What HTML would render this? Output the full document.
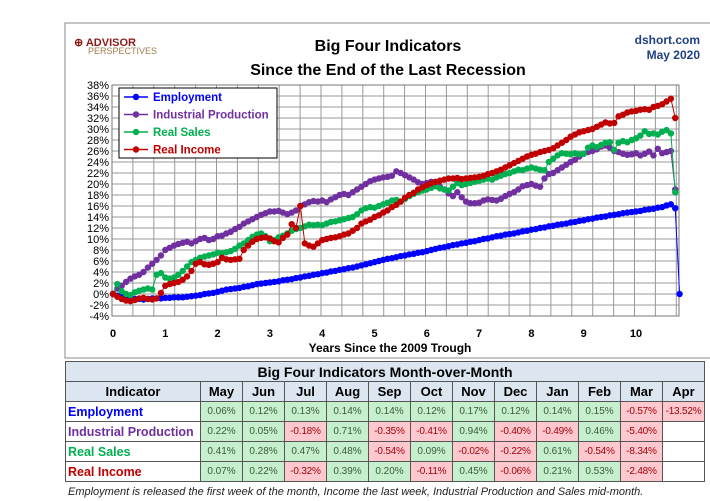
<!DOCTYPE html>
<html><head><meta charset="utf-8">
<style>
body{margin:0;width:710px;height:501px;background:#fff;position:relative;overflow:hidden;font-family:"Liberation Sans",sans-serif}
#chart{position:absolute;left:0;top:0}
table{position:absolute;left:65px;top:361px;border-collapse:collapse;font-size:12px;table-layout:fixed}
td,th{border:1px solid #555;padding:0;height:19px;text-align:center}
th{font-weight:bold;font-size:13px;background:#dce6f1}
td.g{background:#c6efce;color:#3a5a3a;font-size:10px}
td.r{background:#ffc7ce;color:#9c0006;font-size:10px;letter-spacing:-0.2px}
td.n{text-align:left;font-weight:bold;font-size:12.5px;padding-left:2px;white-space:nowrap;overflow:hidden}
#note{position:absolute;left:68px;top:486px;font-size:11px;font-style:italic;color:#222}
</style></head><body>
<svg id="chart" width="710" height="361">
<rect x="65" y="23" width="650" height="335" fill="#fff" stroke="#888"/>
<text x="74" y="46" font-size="11" font-weight="bold" fill="#8b1a1a">⊕ ADVISOR</text>
<text x="88" y="54" font-size="9" fill="#a07a50">PERSPECTIVES</text>
<text x="388" y="51" font-size="16" font-weight="bold" text-anchor="middle">Big Four Indicators</text>
<text x="388" y="75" font-size="16" font-weight="bold" text-anchor="middle">Since the End of the Last Recession</text>
<text x="700" y="44" font-size="12" font-weight="bold" fill="#1f3f7f" text-anchor="end">dshort.com</text>
<text x="700" y="59" font-size="12" font-weight="bold" fill="#1f3f7f" text-anchor="end">May  2020</text>
<g id="grid"></g><g id="series"></g>
<text x="390" y="352" font-size="12" font-weight="bold" text-anchor="middle">Years Since the 2009 Trough</text>
<g>
<rect x="119" y="88" width="158" height="70" fill="#fff" stroke="#000"/>
<g id="legend"></g></g>
</svg>
<table>
<colgroup><col style="width:135px"><col span="12" style="width:42px"></colgroup>
<tr><th colspan="13" style="font-size:14px">Big Four Indicators Month-over-Month</th></tr>
<tr><th>Indicator</th><th>May</th><th>Jun</th><th>Jul</th><th>Aug</th><th>Sep</th><th>Oct</th><th>Nov</th><th>Dec</th><th>Jan</th><th>Feb</th><th>Mar</th><th>Apr</th></tr>
<tbody id="tb"></tbody></table>
<div id="note">Employment is released the first week of the month, Income the last week, Industrial Production and Sales mid-month.</div>
<script>
const yTicks=[38,36,34,32,30,28,26,24,22,20,18,16,14,12,10,8,6,4,2,0,-2,-4];
const xTicks=[0,1,2,3,4,5,6,7,8,9,10];
const seriesNames=["Employment","Industrial Production","Real Sales","Real Income"];
const seriesColors=["#0000ff","#7030a0","#00b050","#c00000"];
const employment=[0,-0.3,-0.5,-0.7,-0.8,-0.9,-0.9,-1.0,-0.9,-0.8,-0.8,-0.8,
-0.7,-0.7,-0.6,-0.6,-0.6,-0.5,-0.4,-0.3,-0.2,0,0.1,0.2,
0.4,0.6,0.8,0.9,1.0,1.1,1.3,1.4,1.6,1.8,1.9,2.0,
2.1,2.2,2.3,2.5,2.6,2.7,2.9,3.0,3.2,3.3,3.5,3.6,
3.8,3.9,4.1,4.2,4.4,4.5,4.7,4.8,5.0,5.2,5.4,5.6,
5.8,6.0,6.2,6.4,6.5,6.7,6.9,7.0,7.2,7.3,7.5,7.6,
7.8,8.0,8.2,8.4,8.5,8.7,8.9,9.0,9.2,9.3,9.5,9.6,
9.8,10.0,10.1,10.3,10.5,10.6,10.8,10.9,11.0,11.2,11.4,11.5,
11.7,11.8,12.0,12.1,12.3,12.4,12.6,12.7,12.8,13.0,13.1,13.3,
13.4,13.6,13.7,13.9,14.0,14.1,14.3,14.4,14.5,14.7,14.8,14.9,
15.0,15.1,15.3,15.4,15.5,15.7,15.8,16.1,16.3,15.6,0.0];
const industrial=[0,1,1.5,2.2,2.8,3.2,3.5,4,4.8,5.5,6.2,7,
8,8.4,8.8,9.1,9.3,9.5,9.2,9.6,10,10.2,9.8,10,
10.5,10.6,11,11.3,11.8,12.2,12.8,13.2,13.6,14,14.4,14.7,
15,15,15.1,14.8,14.5,14.8,15.2,16,16.3,16.7,16.9,16.8,
17,16.7,17.2,17.6,18,18.2,18,18.5,19,19.5,20,20.5,
20.8,21,21.2,21.3,21.5,22.3,22,21.6,21.2,20.8,20.3,20,
20.2,20.4,20,19.5,19,18.3,17.8,18.5,17.6,16.8,16.5,16.5,
16.6,17,17.2,17.1,17,17.3,17.8,18.2,18.5,19,19.6,19.8,
20,19.7,19.5,21,21.8,22,22.5,23,23.5,24,24.4,25,
25.5,25.8,26,26.3,26.8,27,26.6,26,25.8,25.5,25.3,25.4,
25.6,25.2,25.5,25.9,25.2,26.4,25.6,25.8,26,19];
const realSales=[0,1.8,0.5,0,-0.2,0.3,0.6,0.8,1,0.8,3.5,3.8,
3,2.8,3,3.5,4.2,5,5.8,6.2,6.6,6.8,7,7.2,
7.5,7.4,7.6,7.8,8.2,8.8,9.2,9.8,10.4,10.8,11,10.5,
9.6,9.8,10.3,10.6,11,11.5,11.8,12,12.3,12.6,12.5,12.6,
12.5,12.8,13.1,13.2,13.4,13.6,13.8,14,14.5,15.2,15.6,15.8,
15.7,16,16.3,16.6,17,17.1,16.8,17.3,17.8,18.2,18.5,18.8,
19,19.3,19.6,19.2,19,18.8,19.5,20.2,19.8,20,20.2,20.4,
20.6,20.8,21,20.8,21.2,21.5,21.8,22,22.3,22.6,22.5,22.8,
23,22.8,22.6,22.5,24,24.6,25.2,25.6,25.5,25.4,25.6,25.4,
25.5,26.6,27,26.7,27.1,27.5,27.6,26.2,27.5,27.8,27.6,28,
28.3,28.8,29.6,29.1,29.2,29,29.5,29.8,29.2,18.5];
const realIncome=[0,-0.5,-0.9,-1.2,-1.3,-1.1,-0.8,-0.7,-0.9,-1,-0.8,0.2,
1.5,1.8,2,2.2,2.6,3.2,4.2,5.5,5.8,5.4,5.3,5.5,
5.8,6.6,6.3,6.2,6.3,6.4,8,8.8,9.5,10,10.2,10.3,
10.1,9.6,9.4,10.2,10.8,12.7,12,16,9.2,8.8,8.6,9.2,
9.8,10,10.2,10.3,10.5,10.8,11,11.5,12,12.8,13.2,13.5,
14,14.3,14.8,15.2,15.8,16.2,16.8,17.5,18,18.4,19,19.4,
19.8,20.1,20.4,20.6,20.8,21,21,21.1,20.9,21,21.1,21.2,
21.3,21.5,21.8,22,22.3,22.6,23,23.4,23.8,24.2,24.6,25,
25.3,25.5,25.8,26,26.2,26.5,27,27.5,28,28.6,29,29.4,
29.6,29.8,30,30.4,30.8,31.2,31,31.1,32.3,32.6,33,33.2,
33.3,33.5,33.6,33.5,34,34.2,34.5,35,35.5,32];
const months=["May","Jun","Jul","Aug","Sep","Oct","Nov","Dec","Jan","Feb","Mar","Apr"];
const momEmployment=[0.06,0.12,0.13,0.14,0.14,0.12,0.17,0.12,0.14,0.15,-0.57,-13.52];
const momIndustrial=[0.22,0.05,-0.18,0.71,-0.35,-0.41,0.94,-0.40,-0.49,0.46,-5.40,null];
const momSales=[0.41,0.28,0.47,0.48,-0.54,0.09,-0.02,-0.22,0.61,-0.54,-8.34,null];
const momIncome=[0.07,0.22,-0.32,0.39,0.20,-0.11,0.45,-0.06,0.21,0.53,-2.48,null];

const NS="http://www.w3.org/2000/svg";
const X0=113,XPY=52.3,Y0=294,YPP=5.5,XL=112,XR=679;
const xs=y=>X0+y*XPY, ys=v=>Y0-v*YPP;
function mk(t,a,p){const e=document.createElementNS(NS,t);for(const k in a)e.setAttribute(k,a[k]);p.appendChild(e);return e;}
const grid=document.getElementById('grid');
for(let x=XL;x<=XR+1;x+=20.9){const l=mk('line',{x1:x,x2:x,y1:ys(38),y2:ys(-4),stroke:'#999','stroke-width':1},grid);

}
yTicks.forEach(v=>{const l=mk('line',{x1:XL,x2:XR,y1:ys(v),y2:ys(v),stroke:'#999','stroke-width':1},grid);


const t=mk('text',{x:XL-3,y:ys(v)+4,'font-size':11,'text-anchor':'end'},grid);t.textContent=v+'%';

});
mk('rect',{x:XL,y:ys(38),width:XR-XL,height:ys(-4)-ys(38),fill:'none',stroke:'#777'},grid);
xTicks.forEach(v=>{const t=mk('text',{x:xs(v),y:337,'font-size':11,'font-weight':'bold','text-anchor':'middle'},grid);t.textContent=v;

});
const sg=document.getElementById('series');
[employment,industrial,realSales,realIncome].forEach((arr,si)=>{
 const g=mk('g',{},sg);
 
 
 const pts=arr.map((v,i)=>xs(i/12).toFixed(1)+','+ys(v).toFixed(1)).join(' ');
 mk('polyline',{points:pts,fill:'none',stroke:seriesColors[si],'stroke-width':1},g);
 arr.forEach((v,i)=>{const c=mk('circle',{cx:xs(i/12),cy:ys(v),r:3.2,fill:seriesColors[si]},g);
 
 });
});
const lg=document.getElementById('legend');
seriesNames.forEach((n,i)=>{const y=97+i*17.5;
 mk('line',{x1:124,x2:148,y1:y,y2:y,stroke:seriesColors[i],'stroke-width':1.5},lg);
 mk('circle',{cx:136,cy:y,r:3.2,fill:seriesColors[i]},lg);
 const t=mk('text',{x:153,y:y+4,'font-size':11.5,'font-weight':'bold',fill:seriesColors[i]},lg);t.textContent=n;
 
 });
const tb=document.getElementById('tb');
const nameColors=["#0000ff","#7030a0","#00b050","#c00000"];
[momEmployment,momIndustrial,momSales,momIncome].forEach((arr,ri)=>{
 const tr=document.createElement('tr');
 
 
 const th=document.createElement('td');th.className='n';th.style.color=nameColors[ri];th.textContent=seriesNames[ri];tr.appendChild(th);
 arr.forEach(v=>{const td=document.createElement('td');
  if(v!==null){td.className=v<0?'r':'g';td.textContent=v.toFixed(2)+'%';}
  
  
  tr.appendChild(td);});
 tb.appendChild(tr);});
</script>
</body></html>
